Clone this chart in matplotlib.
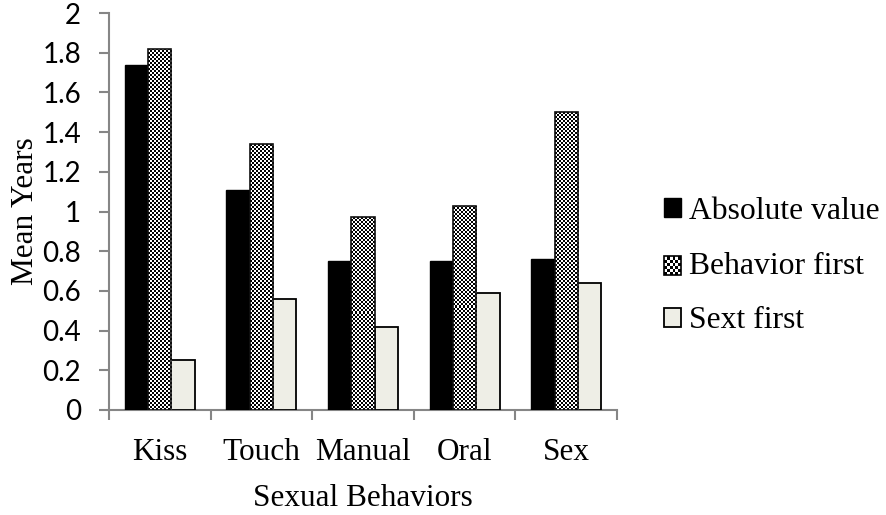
import numpy as np
import matplotlib
matplotlib.use("Agg")
import matplotlib.pyplot as plt
from matplotlib.patches import Rectangle, Patch

categories = ["Kiss", "Touch", "Manual", "Oral", "Sex"]
absolute_value = [1.74, 1.11, 0.75, 0.75, 0.76]
behavior_first = [1.82, 1.34, 0.97, 1.03, 1.50]
sext_first = [0.25, 0.56, 0.42, 0.59, 0.64]
y_ticks = [0, 0.2, 0.4, 0.6, 0.8, 1, 1.2, 1.4, 1.6, 1.8, 2]
y_tick_labels = ["0", "0.2", "0.4", "0.6", "0.8", "1", "1.2", "1.4", "1.6", "1.8", "2"]
series_labels = ["Absolute value", "Behavior first", "Sext first"]

SERIF = "Liberation Serif"
SANS = "Lato"
SPINE = "#868686"
SEXT_COLOR = "#eeeee6"


class CheckerHandler:
    # legend box drawn as a small checkerboard
    def legend_artist(self, legend, orig_handle, fontsize, handlebox):
        x0, y0 = handlebox.xdescent, handlebox.ydescent
        w, h = handlebox.width, handlebox.height
        n = 6
        tr = handlebox.get_transform()
        handlebox.add_artist(Rectangle((x0, y0), w, h, facecolor="white",
                                       edgecolor="none", transform=tr))
        for i in range(n):
            for j in range(n):
                if (i + j) % 2 == 0:
                    handlebox.add_artist(Rectangle((x0 + i * w / n, y0 + j * h / n),
                                                   w / n, h / n, facecolor="black",
                                                   edgecolor="none", transform=tr))
        edge = Rectangle((x0, y0), w, h, facecolor="none", edgecolor="black",
                         lw=1.2, transform=tr)
        handlebox.add_artist(edge)
        return edge


fig = plt.figure(figsize=(8.87, 5.15), dpi=100)
ax = fig.add_axes([109 / 887, 105 / 515, 508 / 887, 397 / 515])

x = np.arange(len(categories))
w = 0.23

ax.bar(x - w, absolute_value, w, color="black", edgecolor="black", lw=1, zorder=3)
checker_bars = ax.bar(x, behavior_first, w, color="none", edgecolor="#111111",
                      lw=1.2, zorder=4)
ax.bar(x + w, sext_first, w, color=SEXT_COLOR, edgecolor="black", lw=1.3, zorder=3)

# checkerboard fill, clipped to each bar (cells about 2 px)
px_x = 508 / 5.0
px_y = 397 / 2.0
for rect in checker_bars:
    x0 = rect.get_x()
    bw = rect.get_width()
    bh = rect.get_height()
    nx = max(1, int(round(bw * px_x / 2.0)))
    ny = max(1, int(round(bh * px_y / 2.0)))
    board = np.add.outer(np.arange(ny), np.arange(nx)) % 2
    im = ax.imshow(board, cmap="gray", vmin=0, vmax=1, interpolation="nearest",
                   extent=(x0, x0 + bw, 0, bh), aspect="auto", zorder=3.5,
                   origin="lower")
    im.set_clip_path(rect)

ax.set_xlim(-0.5, len(categories) - 0.5)
ax.set_ylim(0, 2)

for side in ["top", "right"]:
    ax.spines[side].set_visible(False)
for side in ["left", "bottom"]:
    ax.spines[side].set_color(SPINE)
    ax.spines[side].set_linewidth(1.5)

ax.set_xticks(x)
ax.set_xticklabels(categories, fontfamily=SERIF, fontsize=22.5)
ax.set_xticks(np.arange(len(categories) + 1) - 0.5, minor=True)
ax.tick_params(axis="x", which="major", length=0, pad=20)
ax.tick_params(axis="x", which="minor", length=7, width=1.5, color=SPINE,
               direction="out")

ax.set_yticks(y_ticks)
ax.set_yticklabels(y_tick_labels, fontfamily=SANS, fontsize=20)
ax.tick_params(axis="y", length=7, width=1.5, color=SPINE, direction="out", pad=13)

ax.set_ylabel("Mean Years", fontfamily=SERIF, fontsize=22.5)
ax.yaxis.set_label_coords(-0.136, 0.5)
ax.set_xlabel("Sexual Behaviors", fontfamily=SERIF, fontsize=22.5)
ax.xaxis.set_label_coords(0.5, -0.187)

checker_handle = Patch()
handles = [Patch(facecolor="black", edgecolor="black"),
           checker_handle,
           Patch(facecolor=SEXT_COLOR, edgecolor="black", lw=1.3)]
fig.legend(handles, series_labels,
           handler_map={checker_handle: CheckerHandler()},
           loc="center left", bbox_to_anchor=(664 / 887, 1 - 266 / 515),
           frameon=False, prop={"family": SERIF, "size": 22.8},
           handlelength=0.54, handleheight=0.54, handletextpad=0.25,
           labelspacing=0.82, borderpad=0, borderaxespad=0)

fig.savefig("out.png", dpi=100)
